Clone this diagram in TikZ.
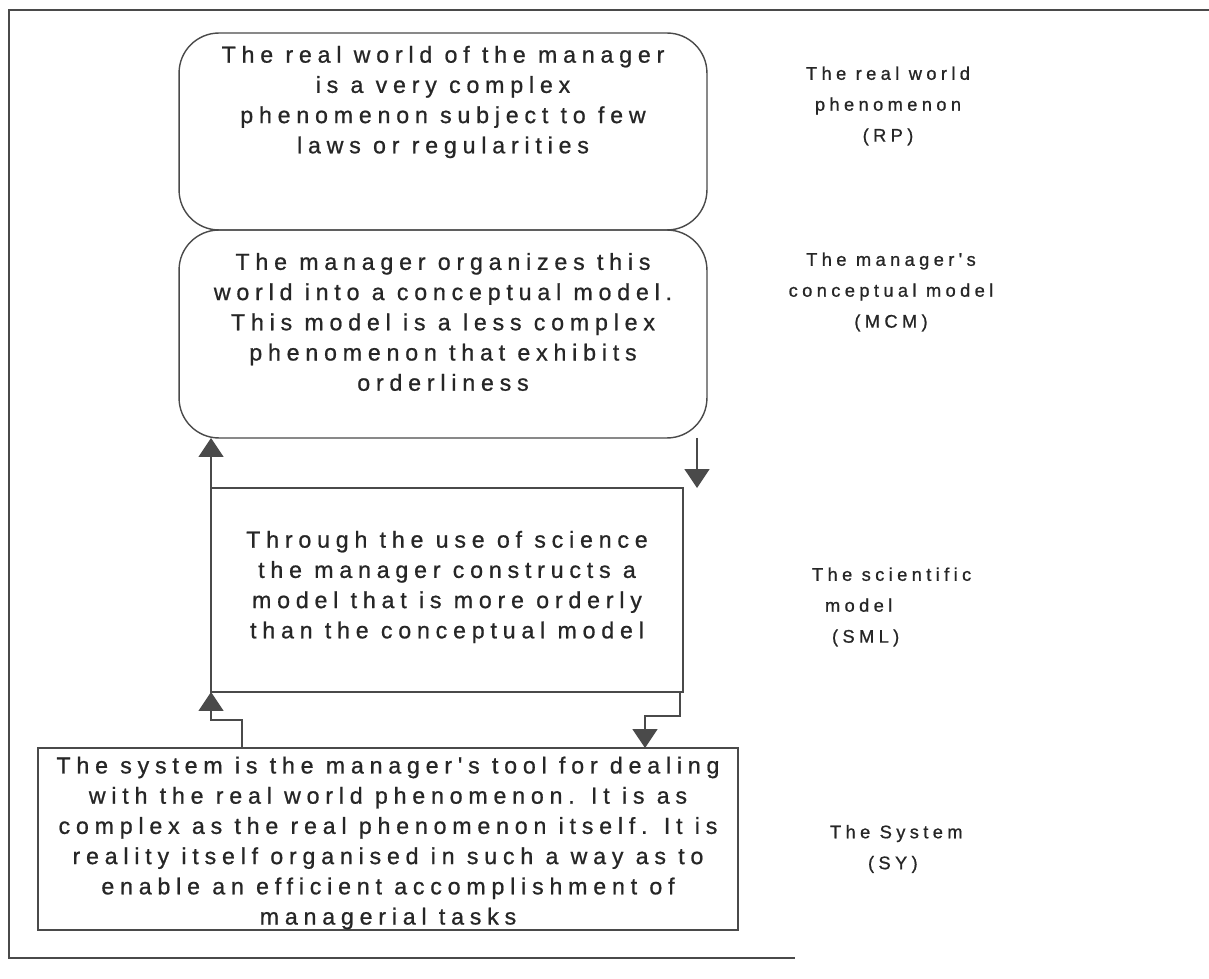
\documentclass[tikz,border=0pt]{standalone}
\usepackage{fontspec}
\setmainfont{Liberation Sans}[LetterSpace=25]
\newfontfamily\boxfont{Liberation Sans}[LetterSpace=25, FakeBold=0.8]
\newfontfamily\sidefont{Liberation Sans}[LetterSpace=24, FakeBold=0.8]
\usetikzlibrary{arrows.meta}
\definecolor{ink}{HTML}{262626}
\definecolor{edge}{HTML}{4A4A4A}
\begin{document}
\begin{tikzpicture}[x=0.02cm, y=-0.02cm,
  every node/.style={inner sep=0pt, outer sep=0pt},
  boxshape/.style={draw=edge, line width=0.8pt},
  roundbox/.style={boxshape, rounded corners=0.8cm},
  boxtext/.style={align=center, text=ink, font=\boxfont\fontsize{13.2}{17.2}\selectfont},
  sidetext/.style={text=ink, font=\sidefont\fontsize{10.4}{17.6}\selectfont},
  conn/.style={draw=edge, line width=0.8pt, -{Triangle[width=0.5cm, length=0.38cm]}}
]
\useasboundingbox (0,0) rectangle (1209,979);
\fill[white] (0,0) rectangle (1209,979);

% outer frame (open on the right)
\draw[edge, line width=0.8pt] (1209,10) -- (9,10) -- (9,958) -- (795,958);

% the four levels
\node[roundbox, minimum width=10.56cm, minimum height=3.94cm] (b1) at (443,131.5) {};
\node[roundbox, minimum width=10.56cm, minimum height=4.16cm] (b2) at (443,334) {};
\node[boxshape, minimum width=9.44cm, minimum height=4.08cm] (b3) at (447,590) {};
\node[boxshape, minimum width=14cm, minimum height=3.64cm] (b4) at (388,839) {};

\node[boxtext] (t1) at (443,102) {The real world of the manager\\is a very complex\\phenomenon subject to few\\laws or regularities};
\node[boxtext] (t2) at (443,322) {The manager organizes this\\world into a conceptual model.\\This model is a less complex\\phenomenon that exhibits\\orderliness};
\node[boxtext] (t3) at (447,587) {Through the use of science\\the manager constructs a\\model that is more orderly\\than the conceptual model};
\node[boxtext] (t4) at (388,843) {The system is the manager's tool for dealing\\with the real world phenomenon. It is as\\complex as the real phenomenon itself. It is\\reality itself organised in such a way as to\\enable an efficient accomplishment of\\managerial tasks};

% level names
\node[sidetext, align=center] (l1) at (888,106) {The real world\\phenomenon\\(RP)};
\node[sidetext, align=center] (l2) at (891,292) {The manager's\\conceptual model\\(MCM)};
\node[sidetext, align=left, anchor=west] (l3) at (812,607) {The scientific\\\hspace*{0.26cm}model\\\hspace*{0.4cm}(SML)};
\node[sidetext, align=left, anchor=west] (l4) at (830,849) {The System\\\hspace*{0.76cm}(SY)};

% connectors between levels
\coordinate (xr) at (697,0);
\coordinate (xl) at (242,0);
\coordinate (xd) at (680,0);
\coordinate (xe) at (645,0);
\draw[conn] (b3.north west) -- (b3.north west |- b2.south);
\draw[conn] (b2.south -| xr) -- (b3.north -| xr);
\draw[conn] (b4.north -| xl) -- ++(0,-28) -| (b3.south west);
\draw[conn] (b3.south -| xd) -- ++(0,24) -| (b4.north -| xe);
\end{tikzpicture}
\end{document}
